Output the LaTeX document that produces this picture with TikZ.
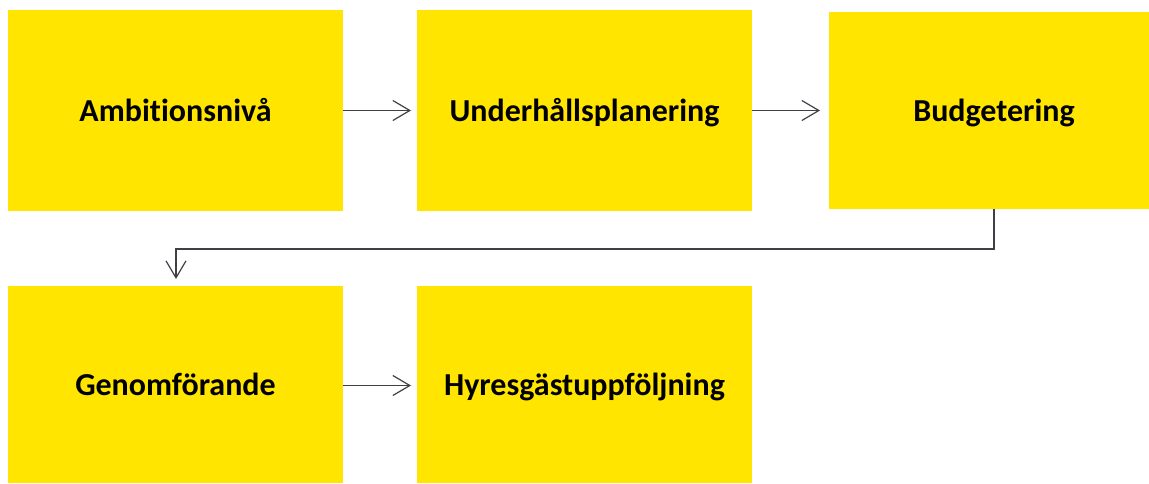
\documentclass[tikz,border=0pt]{standalone}
\usepackage{fontspec}
\setmainfont[Ligatures=NoCommon]{Carlito}
\usetikzlibrary{arrows.meta}
\definecolor{boxyellow}{HTML}{FFE500}
\definecolor{linegray}{HTML}{3F3F46}
\tikzset{
  stage/.style={fill=boxyellow, draw=none, inner sep=0pt, text height=21pt, text depth=0pt,
    font=\fontsize{32}{38}\selectfont\bfseries},
  flow/.style={draw=linegray, line width=1.2pt, -{Straight Barb[length=17pt, width=20pt, line width=1.2pt]}}
}
\begin{document}
\begin{tikzpicture}[x=1pt, y=-1pt]
  \useasboundingbox (0,0) rectangle (1149,483);
  \begin{scope}
    \clip (0,0) rectangle (1149,483);
    \node[stage, minimum width=335pt, minimum height=201pt] (amb) at (175.5,110.5) {Ambitionsnivå};
    \node[stage, minimum width=335pt, minimum height=201pt] (uhp) at (584.5,110.5) {Underhållsplanering};
    \node[stage, minimum width=330pt, minimum height=197pt] (bud) at (994,110.5) {Budgetering};
    \node[stage, minimum width=335pt, minimum height=197pt] (gen) at (175.5,384.5) {Genomförande};
    \node[stage, minimum width=335pt, minimum height=197pt] (hyr) at (584.5,384.5) {Hyresgästuppföljning};
  \end{scope}
  \coordinate (t1) at (411,110.5);
  \coordinate (t2) at (820,110.5);
  \coordinate (t3) at (176,279);
  \coordinate (t4) at (411,385.5);
  \draw[flow] (amb.east) -- (t1);
  \draw[flow] (uhp.east) -- (t2);
  \draw[flow] (bud.south) -- (994,249) -| (t3);
  \draw[flow] (gen.east |- t4) -- (t4);
\end{tikzpicture}
\end{document}
